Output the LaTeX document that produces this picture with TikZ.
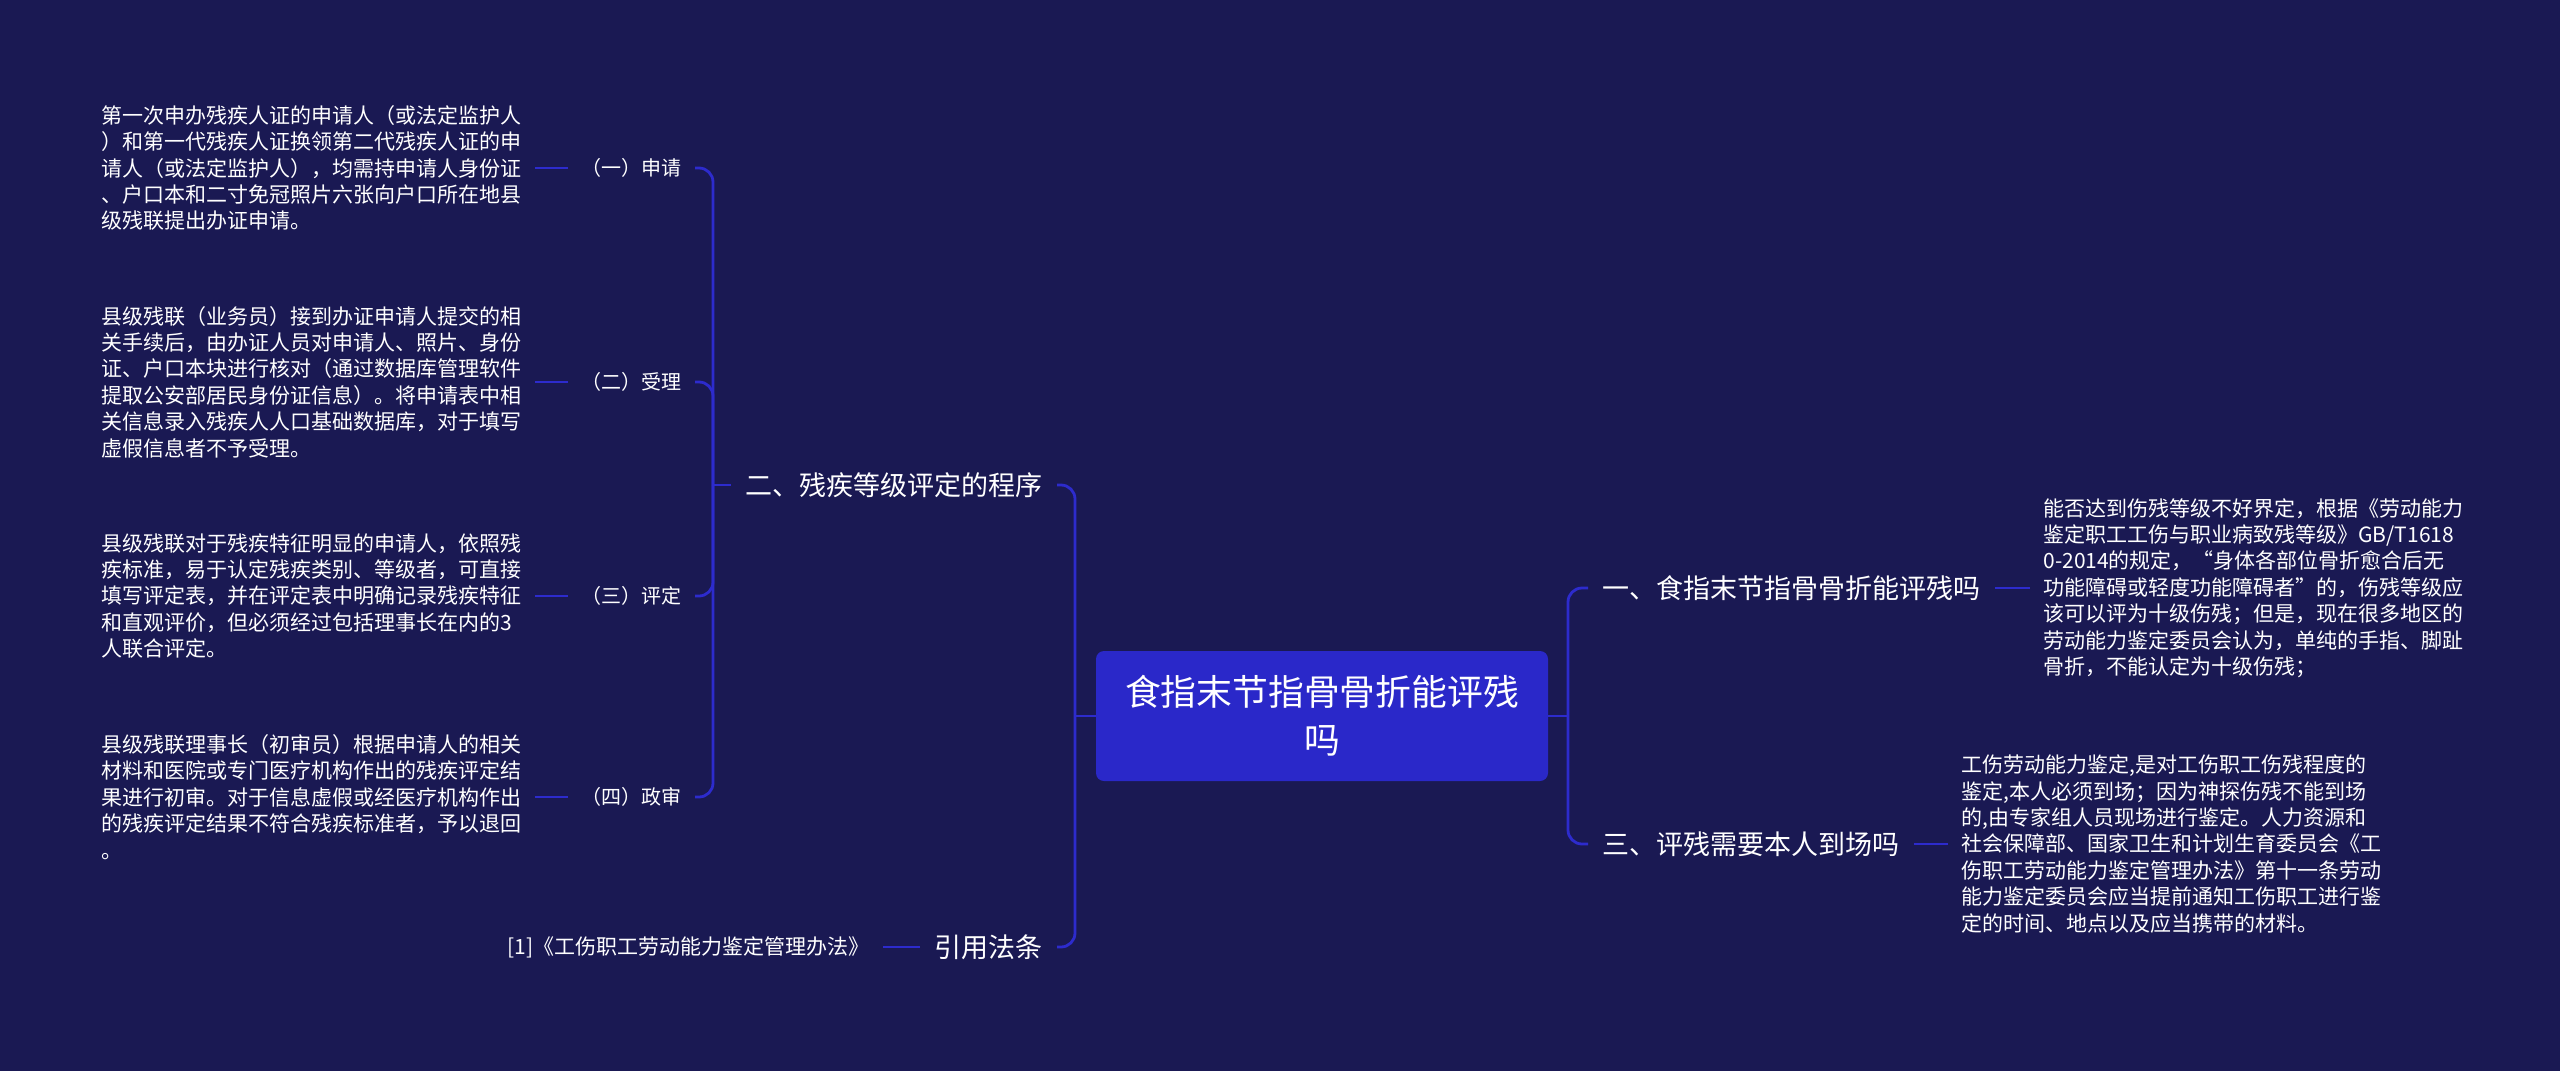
\documentclass[tikz,border=0pt]{standalone}
\usepackage{fontspec}
\setmainfont{Noto Sans CJK SC}
\definecolor{bgc}{RGB}{26,25,83}
\definecolor{boxc}{RGB}{42,40,201}
\definecolor{linec}{RGB}{45,43,205}
\tikzset{
  conn/.style={draw=linec, line width=1.4pt, rounded corners=7pt},
  txtblock/.style={text=white, align=left, inner xsep=6.5pt, inner ysep=2pt,
    font={\fontsize{10.5pt}{13.2pt}\selectfont}},
  sublabel/.style={text=white, inner xsep=6.5pt, inner ysep=2pt,
    font={\fontsize{10pt}{12pt}\selectfont}},
  reflabel/.style={text=white, inner xsep=6.5pt, inner ysep=2pt,
    font={\fontsize{10.5pt}{12pt}\selectfont}},
  branch/.style={text=white, inner xsep=7pt, inner ysep=2pt,
    font={\fontsize{13.5pt}{16pt}\selectfont}},
  rootbox/.style={fill=boxc, text=white, rounded corners=4pt, align=center,
    minimum width=226pt, minimum height=65pt, inner sep=0pt,
    font={\fontsize{17.9pt}{24pt}\selectfont}}
}
\begin{document}
\begin{tikzpicture}[x=0.5pt,y=-0.5pt]
\fill[bgc] (0,0) rectangle (2560,1071);
\useasboundingbox (0,0) rectangle (2560,1071);

% root
\node[rootbox] (root) at (1322,716) {食指末节指骨骨折能评残\\吗};

% right branches
\node[branch, anchor=west] (b1) at (1588,588) {一、食指末节指骨骨折能评残吗};
\node[branch, anchor=west] (b3) at (1588,844) {三、评残需要本人到场吗};
\node[txtblock, anchor=west] (t1) at (2030,588) {能否达到伤残等级不好界定，根据《劳动能力\\鉴定职工工伤与职业病致残等级》GB/T1618\\0-2014的规定，“身体各部位骨折愈合后无\\功能障碍或轻度功能障碍者”的，伤残等级应\\该可以评为十级伤残；但是，现在很多地区的\\劳动能力鉴定委员会认为，单纯的手指、脚趾\\骨折，不能认定为十级伤残；};
\node[txtblock, anchor=west] (t3) at (1948,844) {工伤劳动能力鉴定,是对工伤职工伤残程度的\\鉴定,本人必须到场；因为神探伤残不能到场\\的,由专家组人员现场进行鉴定。人力资源和\\社会保障部、国家卫生和计划生育委员会《工\\伤职工劳动能力鉴定管理办法》第十一条劳动\\能力鉴定委员会应当提前通知工伤职工进行鉴\\定的时间、地点以及应当携带的材料。};

% left branches
\node[branch, anchor=east] (b2) at (1057,485) {二、残疾等级评定的程序};
\node[branch, anchor=east] (b4) at (1057,947) {引用法条};
\node[reflabel, anchor=east] (ref) at (883,947) {[1]《工伤职工劳动能力鉴定管理办法》};

\node[sublabel, anchor=east] (l1) at (695,168) {（一）申请};
\node[sublabel, anchor=east] (l2) at (695,382) {（二）受理};
\node[sublabel, anchor=east] (l3) at (695,596) {（三）评定};
\node[sublabel, anchor=east] (l4) at (695,797) {（四）政审};

\node[txtblock, anchor=west] (d1) at (88,168) {第一次申办残疾人证的申请人（或法定监护人\\）和第一代残疾人证换领第二代残疾人证的申\\请人（或法定监护人），均需持申请人身份证\\、户口本和二寸免冠照片六张向户口所在地县\\级残联提出办证申请。};
\node[txtblock, anchor=west] (d2) at (88,382) {县级残联（业务员）接到办证申请人提交的相\\关手续后，由办证人员对申请人、照片、身份\\证、户口本块进行核对（通过数据库管理软件\\提取公安部居民身份证信息）。将申请表中相\\关信息录入残疾人人口基础数据库，对于填写\\虚假信息者不予受理。};
\node[txtblock, anchor=west] (d3) at (88,596) {县级残联对于残疾特征明显的申请人，依照残\\疾标准，易于认定残疾类别、等级者，可直接\\填写评定表，并在评定表中明确记录残疾特征\\和直观评价，但必须经过包括理事长在内的3\\人联合评定。};
\node[txtblock, anchor=west] (d4) at (88,797) {县级残联理事长（初审员）根据申请人的相关\\材料和医院或专门医疗机构作出的残疾评定结\\果进行初审。对于信息虚假或经医疗机构作出\\的残疾评定结果不符合残疾标准者，予以退回\\。};

% junctions
\coordinate (jR) at (1568,716);
\coordinate (jC) at (1075,716);
\coordinate (jL) at (713,485);

% connectors
\draw[conn] (root.east) -- (jR);
\draw[conn] (b1.west) -| (jR);
\draw[conn] (b3.west) -| (jR);
\draw[conn] (b1.east) -- (t1.west);
\draw[conn] (b3.east) -- (t3.west);

\draw[conn] (root.west) -- (jC);
\draw[conn] (b2.east) -| (jC);
\draw[conn] (b4.east) -| (jC);
\draw[conn] (b4.west) -- (ref.east);

\draw[conn] (jL) -- (b2.west);
\draw[conn] (l1.east) -| (jL);
\draw[conn] (l2.east) -| (jL);
\draw[conn] (l3.east) -| (jL);
\draw[conn] (l4.east) -| (jL);

\draw[conn] (d1.east) -- (l1.west);
\draw[conn] (d2.east) -- (l2.west);
\draw[conn] (d3.east) -- (l3.west);
\draw[conn] (d4.east) -- (l4.west);
\end{tikzpicture}
\end{document}
